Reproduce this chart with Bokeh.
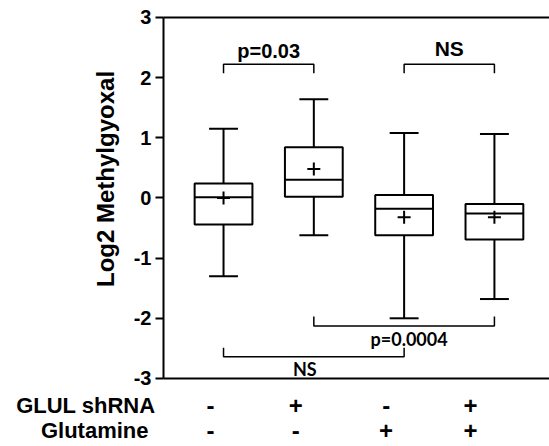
import math
from bokeh.plotting import figure
from bokeh.models import Range1d, FixedTicker, LinearAxis
from bokeh.core.properties import value
from bokeh.embed import file_html
from bokeh.resources import INLINE

# ---- data ----
positions = [1, 2, 3, 4]
whisker_low = [-1.30, -0.62, -2.00, -1.68]
q1 = [-0.44, 0.02, -0.62, -0.69]
median = [0.01, 0.30, -0.18, -0.26]
q3 = [0.24, 0.84, 0.05, -0.10]
whisker_high = [1.15, 1.64, 1.08, 1.06]
means = [0.0, 0.48, -0.32, -0.32]

glul_signs = ["-", "+", "-", "+"]
glutamine_signs = ["-", "-", "+", "+"]
row_labels = ["GLUL shRNA", "Glutamine"]
y_ticks = [-3, -2, -1, 0, 1, 2, 3]
y_title = "Log2 Methylgyoxal"

# significance brackets (top pair)
top_left = [1, 3]
top_right = [2, 4]
top_level = [2.22, 2.22]
top_tip = [2.07, 2.07]
top_text = ["p=0.03", "NS"]
# bottom brackets
bot_left = [2, 1]
bot_right = [4, 3]
bot_level = [-2.13, -2.64]
bot_tip = [-1.97, -2.49]
bot_text = ["p=0.0004", "NS"]

# ---- layout constants ----
X_START, X_END = -1.47, 4.61
Y_START, Y_END = -4.13, 3.28
AXIS_X = 0.335          # where the value axis sits
Y_MIN, Y_MAX = -3, 3
BOX_HALF = 0.32
CAP_HALF = 0.16
SIGN_SHIFT = [-13, -18, -18, -24]   # pixel nudges of the +/- columns
FONT = "Liberation Sans"

p = figure(width=549, height=446, output_backend="svg", toolbar_location=None,
           x_range=Range1d(X_START, X_END), y_range=Range1d(Y_START, Y_END),
           x_axis_location=None, y_axis_location=None,
           min_border=0, min_border_left=0, min_border_right=0,
           min_border_top=0, min_border_bottom=0)
p.outline_line_color = None
p.grid.visible = False
p.background_fill_color = "white"

ay = LinearAxis(fixed_location=AXIS_X, bounds=(Y_MIN, Y_MAX),
                ticker=FixedTicker(ticks=y_ticks),
                major_label_overrides={t: str(t) for t in y_ticks},
                minor_tick_line_color=None, major_tick_out=8, major_tick_in=0,
                axis_line_width=2, major_tick_line_width=2,
                major_label_text_font=FONT, major_label_text_font_style="bold",
                major_label_text_font_size="20px", major_label_text_color="black",
                major_label_standoff=4)
p.add_layout(ay, "left")

for loc, side in [(Y_MIN, "below"), (Y_MAX, "above")]:
    p.add_layout(LinearAxis(fixed_location=loc, bounds=(AXIS_X, X_END),
                            ticker=FixedTicker(ticks=[]), major_tick_line_color=None,
                            minor_tick_line_color=None, major_label_text_font_size="0px",
                            axis_line_width=2), side)

# boxes
p.segment(x0=positions, y0=q3, x1=positions, y1=whisker_high, line_color="black", line_width=2)
p.segment(x0=positions, y0=q1, x1=positions, y1=whisker_low, line_color="black", line_width=2)
cl = [v - CAP_HALF for v in positions]
cr = [v + CAP_HALF for v in positions]
p.segment(x0=cl, y0=whisker_high, x1=cr, y1=whisker_high, line_color="black", line_width=2)
p.segment(x0=cl, y0=whisker_low, x1=cr, y1=whisker_low, line_color="black", line_width=2)
bl = [v - BOX_HALF for v in positions]
br = [v + BOX_HALF for v in positions]
p.quad(left=bl, right=br, bottom=q1, top=q3, fill_color="white", line_color="black", line_width=2)
p.segment(x0=bl, y0=median, x1=br, y1=median, line_color="black", line_width=2)
p.scatter(x=positions, y=means, marker="cross", size=13, line_color="black", line_width=2)

def brackets(lefts, rights, level, tip):
    xs, ys = [], []
    for a, b, l, t in zip(lefts, rights, level, tip):
        xs.append([a, a, b, b])
        ys.append([t, l, l, t])
    p.multi_line(xs=xs, ys=ys, line_color="black", line_width=1.5)

brackets(top_left, top_right, top_level, top_tip)
brackets(bot_left, bot_right, bot_level, bot_tip)

top_mid = [(a + b) / 2 for a, b in zip(top_left, top_right)]
p.text(x=top_mid[:1], y=[2.44], text=top_text[:1], text_font=value(FONT), text_font_style="bold",
       text_font_size="20px", text_align="center", text_baseline="middle")
p.text(x=top_mid[1:], y=[2.48], text=top_text[1:], text_font=value(FONT), text_font_style="bold",
       text_font_size="21px", text_align="center", text_baseline="middle")
bot_mid = [(a + b) / 2 for a, b in zip(bot_left, bot_right)]
p.text(x=bot_mid, y=[-2.34, -2.84], text=bot_text, text_font=value("Lato"), text_font_style="bold",
       text_font_size="18px", text_align="center", text_baseline="middle",
       x_offset=[5, -9])

# condition rows under the axis
row_y = [-3.455, -3.87]
for signs, yy in zip([glul_signs, glutamine_signs], row_y):
    p.text(x=positions, y=[yy] * len(positions), text=signs, text_font=value(FONT),
           text_font_style="bold", text_font_size="24px", text_align="center",
           text_baseline="middle", x_offset=SIGN_SHIFT)
p.text(x=[AXIS_X, AXIS_X], y=row_y, text=row_labels, text_font=value(FONT), text_font_style="bold",
       text_font_size="22px", text_align="right", text_baseline="middle", x_offset=[-8, -15])

# value axis title
p.text(x=[AXIS_X], y=[0.315], text=[y_title], angle=math.pi / 2, x_offset=-58,
       text_font=value(FONT), text_font_style="bold", text_font_size="24px",
       text_align="center", text_baseline="middle")

open("out.html", "w").write(file_html(p, INLINE))
